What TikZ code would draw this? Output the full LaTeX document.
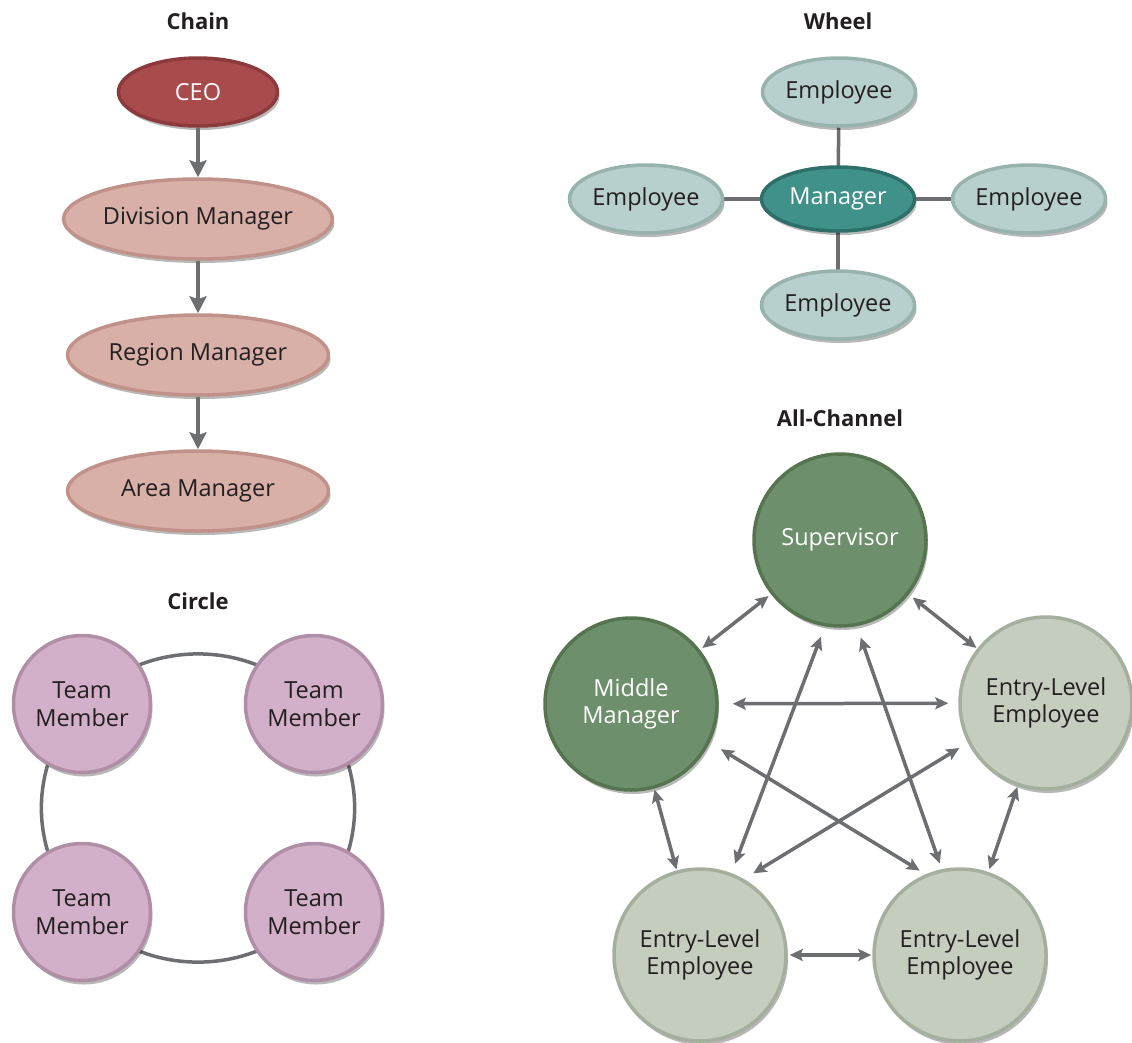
\documentclass[tikz,border=0pt]{standalone}
\usepackage{fontspec}
\setmainfont{Open Sans}
\usetikzlibrary{shapes.geometric,arrows.meta,shadows,backgrounds}
\definecolor{txt}{HTML}{231F20}
\definecolor{ceoF}{HTML}{A94A4C}
\definecolor{ceoD}{HTML}{8C3A3C}
\definecolor{chF}{HTML}{D8B0A8}
\definecolor{chD}{HTML}{C0928A}
\definecolor{mgF}{HTML}{40918A}
\definecolor{mgD}{HTML}{2D6F69}
\definecolor{emF}{HTML}{B8D0CD}
\definecolor{emD}{HTML}{98B2AE}
\definecolor{tmF}{HTML}{D3B0C9}
\definecolor{tmD}{HTML}{B08EA6}
\definecolor{suF}{HTML}{6E8F6B}
\definecolor{suD}{HTML}{55744F}
\definecolor{enF}{HTML}{C5CDBE}
\definecolor{enD}{HTML}{A5AF9E}
\definecolor{lnC}{HTML}{6D6E71}
\begin{document}
\begin{tikzpicture}[x=1pt,y=-1pt,
  every node/.style={font=\fontsize{23.5}{27.5}\selectfont, text=txt, align=center, inner sep=0pt},
  ttl/.style={font=\bfseries\fontsize{22}{26}\selectfont},
  shad/.style={drop shadow={shadow xshift=2pt,shadow yshift=-4pt,opacity=.28,fill=black}},
  ell/.style={ellipse, line width=3.5pt, shad},
  ceonode/.style={ell, fill=ceoF, draw=ceoD, text=white, minimum width=159pt, minimum height=68pt},
  chainnode/.style={ell, fill=chF, draw=chD, minimum width=261pt, minimum height=80pt},
  mgrnode/.style={ell, fill=mgF, draw=mgD, text=white, minimum width=153pt, minimum height=64pt},
  empnode/.style={ell, fill=emF, draw=emD, minimum width=153pt, minimum height=68pt},
  teamnode/.style={circle, line width=3.5pt, shad, fill=tmF, draw=tmD, minimum size=137pt},
  supnode/.style={circle, line width=3.5pt, shad, fill=suF, draw=suD, text=white, minimum size=172pt},
  entnode/.style={circle, line width=3.5pt, shad, fill=enF, draw=enD, minimum size=172pt},
  carrow/.style={draw=lnC, line width=4.5pt, -{Stealth[length=17pt,width=17pt,inset=3pt]}},
  wline/.style={draw=lnC, line width=3.5pt},
  ring/.style={draw=lnC, line width=3.5pt},
  aarrow/.style={draw=lnC, line width=3.5pt, {Stealth[length=13pt,width=12pt,inset=2.5pt]}-{Stealth[length=13pt,width=12pt,inset=2.5pt]}}
]
\useasboundingbox (0,0) rectangle (1132,1042);

% ---------- Chain ----------
\node[ttl] (tchain) at (198,21) {Chain};
\node[ceonode] (ceo) at (198,92) {CEO};
\node[chainnode] (div) at (198,219) {Division Manager};
\node[chainnode] (reg) at (198,355) {Region Manager};
\node[chainnode] (area) at (198,491) {Area Manager};
\draw[carrow] (ceo) -- (div);
\draw[carrow] (div) -- (reg);
\draw[carrow] (reg) -- (area);

% ---------- Wheel ----------
\node[ttl] (twheel) at (838,21) {Wheel};
\node[mgrnode] (mgr) at (838,199) {Manager};
\node[empnode] (et) at (839,92) {Employee};
\node[empnode] (el) at (646,199) {Employee};
\node[empnode] (er) at (1029,199) {Employee};
\node[empnode] (eb) at (838,305) {Employee};
\begin{pgfonlayer}{background}
\draw[wline] (mgr.center) -- (et.center);
\draw[wline] (mgr.center) -- (el.center);
\draw[wline] (mgr.center) -- (er.center);
\draw[wline] (mgr.center) -- (eb.center);
\end{pgfonlayer}

% ---------- Circle ----------
\node[ttl] (tcircle) at (198,601) {Circle};
\node[teamnode] (tl) at (82,704) {Team\\Member};
\node[teamnode] (tr) at (314,704) {Team\\Member};
\node[teamnode] (bl) at (82,912) {Team\\Member};
\node[teamnode] (br) at (314,912) {Team\\Member};
\begin{pgfonlayer}{background}
\draw[ring] (tl.center) to[bend left=47.6] (tr.center);
\draw[ring] (tr.center) to[bend left=41.9] (br.center);
\draw[ring] (br.center) to[bend left=47.6] (bl.center);
\draw[ring] (bl.center) to[bend left=41.9] (tl.center);
\end{pgfonlayer}

% ---------- All-Channel ----------
\node[ttl] (tall) at (840,418) {All-Channel};
\node[supnode] (sup) at (840,540) {\raisebox{5pt}{Supervisor}};
\node[supnode] (mm) at (631,704) {Middle\\Manager};
\node[entnode] (enr) at (1046,703) {Entry-Level\\Employee};
\node[entnode] (ebl) at (700,955) {Entry-Level\\Employee};
\node[entnode] (ebr) at (960,955) {Entry-Level\\Employee};

\draw[aarrow, shorten <=3pt, shorten >=3pt] (sup) -- (mm);
\draw[aarrow, shorten <=5pt, shorten >=1pt] (sup) -- (enr);
\draw[aarrow, shorten <=14pt, shorten >=10pt] (mm) -- (enr);
\draw[aarrow, shorten <=1pt, shorten >=1pt] (mm) -- (ebl);
\draw[aarrow, shorten <=1pt, shorten >=3pt] (enr) -- (ebr);
\draw[aarrow, shorten <=2pt, shorten >=1pt] (ebl) -- (ebr);
\draw[aarrow, shorten <=11pt, shorten >=10pt] (sup.260) -- (ebl.69);
\draw[aarrow, shorten <=12pt, shorten >=6pt] (sup.281) -- (ebr.102);
\draw[aarrow, shorten <=13pt, shorten >=7pt] (mm.-26) -- (ebr.113);
\draw[aarrow, shorten <=10pt, shorten >=11pt] (enr.207) -- (ebl.60);
\end{tikzpicture}
\end{document}
